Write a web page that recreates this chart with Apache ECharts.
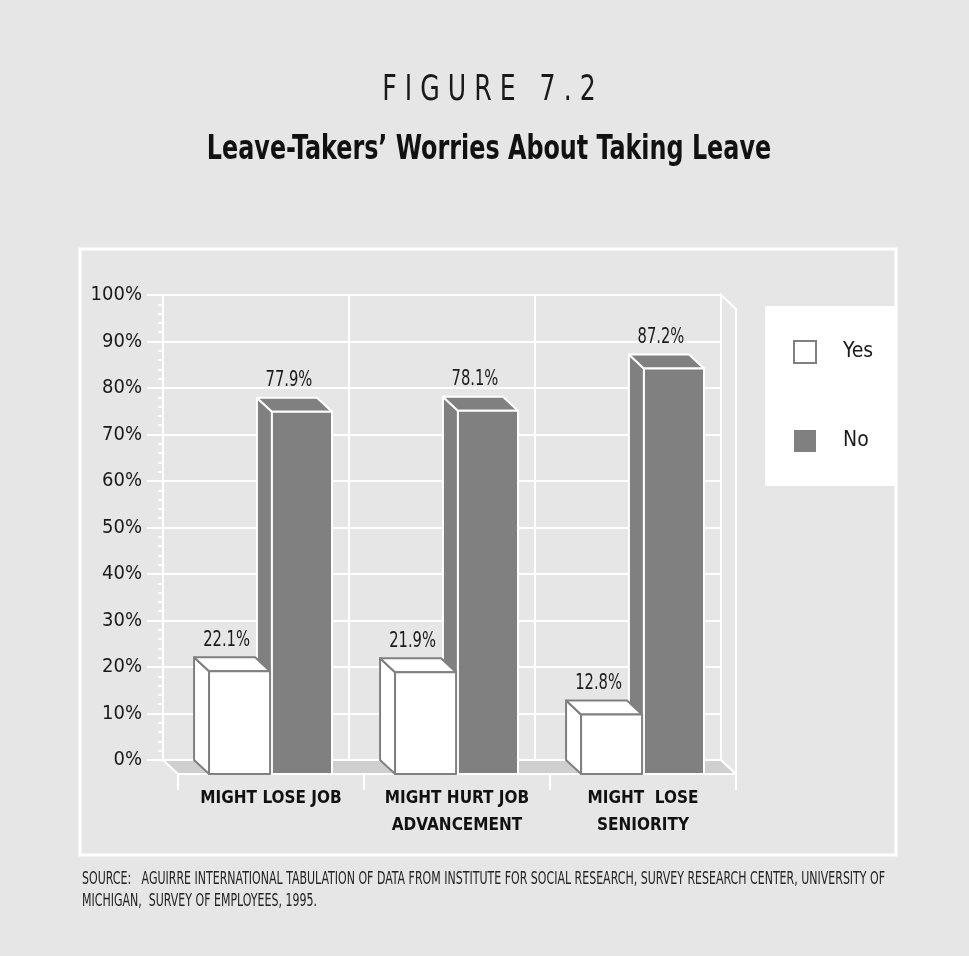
<!DOCTYPE html>
<html>
<head>
<meta charset="utf-8">
<script src="https://cdn.jsdelivr.net/npm/echarts@6/dist/echarts.min.js"></script>
<style>
  html, body { margin: 0; padding: 0; background: #e6e6e6; }
  #chart { width: 969px; height: 956px; }
</style>
</head>
<body>
<div id="chart"></div>
<script>
// data
const categories = ['MIGHT LOSE JOB', 'MIGHT HURT JOB\nADVANCEMENT', 'MIGHT  LOSE\nSENIORITY'];
const yesValues = [22.1, 21.9, 12.8];
const noValues = [77.9, 78.1, 87.2];
const yMax = 100;
const yStep = 10;

const FONT = "'Liberation Sans Narrow', 'DejaVu Sans Condensed', 'Noto Sans', sans-serif";
const DX = -15, DY = -14;   // depth of the fake 3d

const myChart = echarts.init(document.getElementById('chart'));

function barRenderer(side, fill, stroke) {
  return function (params, api) {
    const idx = api.value(0);
    const val = api.value(1);
    const top = api.coord([idx, val]);
    const base = api.coord([idx, 0]);
    const band = api.size([1, 0])[0];
    const cx = top[0];
    const x0 = side === 'left' ? cx - band * 0.333 : cx + band * 0.005;
    const x1 = side === 'left' ? cx - band * 0.005 : cx + band * 0.328;
    const yt = top[1], yb = base[1];
    const st = {fill: fill, stroke: stroke, lineWidth: 2, lineJoin: 'round'};
    return {
      type: 'group',
      children: [
        {type: 'polygon', shape: {points: [[x0, yb], [x0 + DX, yb + DY], [x0 + DX, yt + DY], [x0, yt]]}, style: st},
        {type: 'polygon', shape: {points: [[x0, yt], [x0 + DX, yt + DY], [x1 + DX, yt + DY], [x1, yt]]}, style: st},
        {type: 'rect', shape: {x: x0, y: yt, width: x1 - x0, height: yb - yt}, style: st},
        {
          type: 'text', x: (x0 + x1) / 2 - 13, y: yt + DY - 17, scaleX: 0.78,
          style: {
            text: val.toFixed(1) + '%', font: '21px ' + FONT, fill: '#1a1a1a',
            align: 'center', verticalAlign: 'middle', textAlign: 'center', textVerticalAlign: 'middle'
          }
        }
      ]
    };
  };
}

function frameRenderer(params, api) {
  const c = params.coordSys;
  const x = c.x, y = c.y, w = c.width, h = c.height;
  return {
    type: 'group',
    children: [
      {
        type: 'polygon',
        shape: {points: [[x + DX, y + h + DY], [x + w + DX, y + h + DY], [x + w, y + h], [x, y + h]]},
        style: {fill: '#cfcfcf', stroke: '#fff', lineWidth: 2}
      },
      {
        type: 'polygon',
        shape: {points: [[x + w + DX, y + DY], [x + w, y], [x + w, y + h], [x + w + DX, y + h + DY]]},
        style: {fill: 'none', stroke: '#fff', lineWidth: 2}
      }
    ]
  };
}

const option = {
  backgroundColor: '#e6e6e6',
  animation: false,
  graphic: [
    {type: 'rect', shape: {x: 80, y: 249, width: 816, height: 606}, style: {fill: 'none', stroke: '#fff', lineWidth: 3}, z: 0},
    {
      type: 'text', x: 489, y: 91, scaleX: 0.8,
      style: {text: 'F I G U R E   7 . 2', font: '35px ' + FONT, fill: '#1a1a1a',
        align: 'center', verticalAlign: 'middle', textAlign: 'center', textVerticalAlign: 'middle'}
    },
    {
      type: 'text', x: 489, y: 150, scaleX: 0.78,
      style: {text: 'Leave-Takers\u2019 Worries About Taking Leave', font: 'bold 34px ' + FONT, fill: '#111',
        align: 'center', verticalAlign: 'middle', textAlign: 'center', textVerticalAlign: 'middle'}
    },
    {
      type: 'text', x: 82, y: 880, scaleX: 0.72,
      style: {text: 'SOURCE:   AGUIRRE INTERNATIONAL TABULATION OF DATA FROM INSTITUTE FOR SOCIAL RESEARCH, SURVEY RESEARCH CENTER, UNIVERSITY OF',
        font: '17px ' + FONT, fill: '#222', align: 'left', verticalAlign: 'middle', textAlign: 'left', textVerticalAlign: 'middle'}
    },
    {
      type: 'text', x: 82, y: 902, scaleX: 0.72,
      style: {text: 'MICHIGAN,  SURVEY OF EMPLOYEES, 1995.',
        font: '17px ' + FONT, fill: '#222', align: 'left', verticalAlign: 'middle', textAlign: 'left', textVerticalAlign: 'middle'}
    }
  ],
  legend: {
    orient: 'vertical',
    left: 765,
    top: 306,
    data: [
      {name: 'Yes', itemStyle: {color: '#fff', borderColor: '#808080', borderWidth: 2}},
      {name: 'No', itemStyle: {color: '#808080', borderWidth: 0}}
    ],
    icon: 'rect',
    itemWidth: 22,
    itemHeight: 22,
    itemGap: 66,
    backgroundColor: '#fff',
    borderRadius: 0,
    padding: [34, 24, 34, 28],
    selectedMode: false,
    textStyle: {fontSize: 21, fontFamily: FONT, color: '#1a1a1a', padding: [0, 0, 0, 22]}
  },
  grid: [
    {left: 163, top: 295, width: 558, height: 465, show: true, borderColor: '#fff', borderWidth: 2, backgroundColor: 'transparent'},
    {left: 178, top: 309, width: 558, height: 465, show: false}
  ],
  xAxis: [
    {
      gridIndex: 0, type: 'category', data: categories,
      axisLine: {show: false}, axisTick: {show: false}, axisLabel: {show: false},
      splitLine: {show: true, interval: 0, lineStyle: {color: '#fff', width: 2}}
    },
    {
      gridIndex: 1, type: 'category', data: categories,
      axisLine: {show: true, lineStyle: {color: '#fff', width: 2}},
      axisTick: {show: true, length: 16, interval: 0, lineStyle: {color: '#fff', width: 2}},
      axisLabel: {interval: 0, margin: 11, fontSize: 17, fontWeight: 'bold', fontFamily: FONT, color: '#111', lineHeight: 27},
      splitLine: {show: false}
    }
  ],
  yAxis: [
    {
      gridIndex: 0, type: 'value', min: 0, max: yMax, interval: yStep,
      axisLine: {show: true, lineStyle: {color: '#fff', width: 2}},
      axisTick: {show: true, length: 16, lineStyle: {color: '#fff', width: 2}},
      minorTick: {show: true, splitNumber: 5, length: 5, lineStyle: {color: '#fff', width: 2}},
      axisLabel: {formatter: '{value}%', margin: 21, fontSize: 20, fontFamily: FONT, color: '#1a1a1a'},
      splitLine: {show: true, lineStyle: {color: '#fff', width: 2}}
    },
    {gridIndex: 1, type: 'value', min: 0, max: yMax, interval: yStep, show: false}
  ],
  series: [
    {name: 'frame', type: 'custom', xAxisIndex: 1, yAxisIndex: 1, data: [[0, 0]], encode: {x: 0, y: 1},
      renderItem: frameRenderer, silent: true, z: 1},
    {name: 'No', type: 'custom', xAxisIndex: 1, yAxisIndex: 1, encode: {x: 0, y: 1},
      data: noValues.map(function (v, i) { return [i, v]; }),
      itemStyle: {color: '#808080'},
      renderItem: barRenderer('right', '#808080', '#fff'), z: 2},
    {name: 'Yes', type: 'custom', xAxisIndex: 1, yAxisIndex: 1, encode: {x: 0, y: 1},
      data: yesValues.map(function (v, i) { return [i, v]; }),
      itemStyle: {color: '#fff'},
      renderItem: barRenderer('left', '#fff', '#808080'), z: 3}
  ]
};

myChart.setOption(option);
</script>
</body>
</html>
